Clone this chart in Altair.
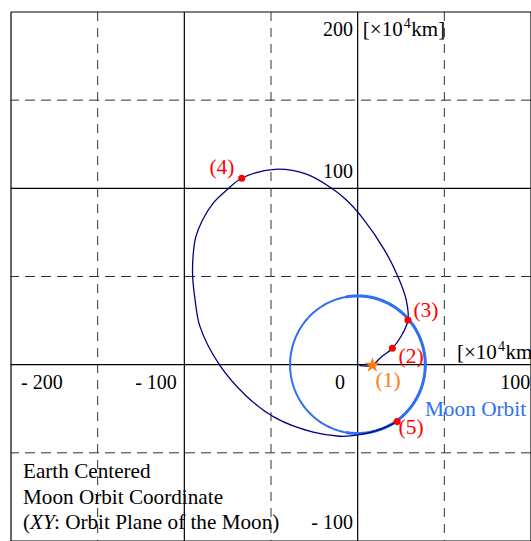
import altair as alt
import numpy as np
import pandas as pd

# ---- values (units: 10^4 km, Earth-centred Moon-orbit frame) ----
X_DOMAIN = [-200, 100]
Y_DOMAIN = [-100, 200]

v_solid = [-200, -100, 0, 100]
v_dashed = [-150, -50, 50]
h_solid = [200, 100, 0, -100]
h_dashed = [150, 50, -50]

# transfer trajectory, from launch out to the apogee loop and back to lunar capture
traj_x = [1.0, 8.5, 13.0, 20.0, 25.0, 29.0, 28.0, 23.2, 15.5, 3.0, -6.5, -15.0, -29.5,
          -47.8, -66.9, -75.0, -83.0, -89.5, -93.5, -95.0, -95.2, -93.8, -91.0, -79.8, -64.0,
          -47.4, -25.7, -10.4, -2.9, 8.0, 16.0, 22.8]
traj_y = [-0.5, -0.3, 3.8, 9.3, 16.0, 25.3, 36.8, 50.0, 65.0, 83.0, 93.4, 100.0, 108.0,
          110.8, 105.7, 99.5, 92.0, 82.0, 72.0, 61.0, 50.0, 36.8, 21.7, 0.0, -18.0,
          -30.2, -38.3, -40.6, -40.3, -38.2, -35.6, -32.3]

moon_radius = 39.0
moon_thick_from, moon_thick_to = 100.0, -100.0   # degrees, arc travelled with the Moon

event_names = ["(2)", "(3)", "(4)", "(5)"]
event_x = [20.0, 29.0, -66.9, 22.8]
event_y = [9.3, 25.3, 105.7, -32.3]
launch_x, launch_y = [8.5], [-0.3]

x_tick_text = ["- 200", "- 100", "0", "100"]
y_tick_text = ["200", "100", "- 100"]

SERIF = "Liberation Serif"
NAVY = "#000080"
MOON_BLUE = "#2f6ff2"
RED = "#ff0000"
ORANGE = "#ff7a10"
STAR_PATH = ("M0,-1L0.2245,-0.309L0.9511,-0.309L0.3633,0.118L0.5878,0.809L0,0.382"
             "L-0.5878,0.809L-0.3633,0.118L-0.9511,-0.309L-0.2245,-0.309Z")

xs = alt.Scale(domain=X_DOMAIN, nice=False, zero=False)
ys = alt.Scale(domain=Y_DOMAIN, nice=False, zero=False)


def X(field="x"):
    return alt.X(f"{field}:Q", scale=xs, axis=None)


def Y(field="y"):
    return alt.Y(f"{field}:Q", scale=ys, axis=None)


# ---- grid ----
grid_v = alt.Chart(pd.DataFrame({"x": v_solid})).mark_rule(color="#000", strokeWidth=1.2).encode(x=X())
grid_vd = alt.Chart(pd.DataFrame({"x": v_dashed})).mark_rule(
    color="#333", strokeWidth=1, strokeDash=[9, 7]).encode(x=X())
grid_h = alt.Chart(pd.DataFrame({"y": h_solid})).mark_rule(color="#000", strokeWidth=1.2).encode(y=Y())
grid_hd = alt.Chart(pd.DataFrame({"y": h_dashed})).mark_rule(
    color="#333", strokeWidth=1, strokeDash=[10, 6]).encode(y=Y())

# ---- Moon orbit ----
ang = np.radians(np.linspace(0, 360, 241))
moon_df = pd.DataFrame({"i": range(len(ang)),
                        "x": moon_radius * np.cos(ang),
                        "y": moon_radius * np.sin(ang)})
moon = alt.Chart(moon_df).mark_line(color=MOON_BLUE, strokeWidth=2).encode(
    x=X(), y=Y(), order="i:Q")

ang2 = np.radians(np.linspace(moon_thick_from, moon_thick_to, 121))
moon_arc_df = pd.DataFrame({"i": range(len(ang2)),
                            "x": moon_radius * np.cos(ang2),
                            "y": moon_radius * np.sin(ang2)})
moon_arc = alt.Chart(moon_arc_df).mark_line(color=MOON_BLUE, strokeWidth=3).encode(
    x=X(), y=Y(), order="i:Q")

# ---- spacecraft trajectory ----
traj_df = pd.DataFrame({"i": range(len(traj_x)), "x": traj_x, "y": traj_y})
traj = alt.Chart(traj_df).mark_line(color=NAVY, strokeWidth=1.3, interpolate="catmull-rom").encode(
    x=X(), y=Y(), order="i:Q")

events_df = pd.DataFrame({"x": event_x, "y": event_y, "name": event_names})
dots = alt.Chart(events_df).mark_point(filled=True, color=RED, size=50, opacity=1).encode(x=X(), y=Y())

launch_df = pd.DataFrame({"x": launch_x, "y": launch_y})
star = alt.Chart(launch_df).mark_point(shape=STAR_PATH, filled=True, color=ORANGE, size=260, opacity=1).encode(
    x=X(), y=Y())


# ---- text ----
def text_layer(rows, **kw):
    df = pd.DataFrame(rows, columns=["x", "y", "t"])
    params = dict(font=SERIF, fontSize=20, baseline="middle", color="#000")
    params.update(kw)
    return alt.Chart(df).mark_text(**params).encode(x=X(), y=Y(), text="t:N")


event_label_pos = [(30.8, 4.4), (39.4, 30.5), (-78.3, 111.6), (30.8, -35.9)]
ev_labels = text_layer([(p[0], p[1], n) for p, n in zip(event_label_pos, event_names)],
                       color=RED, fontSize=21.5)
lbl1 = text_layer([(17.5, -9.2, "(1)")], color=ORANGE, fontSize=21.5)

x_ticks = text_layer([(-194.2, -10.2, x_tick_text[0])], align="left")
x_ticks2 = text_layer([(-104.3, -10.2, x_tick_text[1]), (-7.3, -10.2, x_tick_text[2]),
                       (99.5, -10.2, x_tick_text[3])], align="right")
y_ticks = text_layer([(-2.7, 189.8, y_tick_text[0]), (-2.7, 109.4, y_tick_text[1]),
                      (-2.7, -89.8, y_tick_text[2])], align="right")

# unit labels: "[×10" + raised "4" + "km]"
unit_pos = [(3.0, 189.8), (57.3, 6.6)]
units_a = text_layer([(p[0], p[1], "[×10") for p in unit_pos], align="left", fontSize=21)
units_b = text_layer([(p[0], p[1], "4") for p in unit_pos], align="left", fontSize=14, dx=41, dy=-6)
units_c = text_layer([(p[0], p[1], "km]") for p in unit_pos], align="left", fontSize=21, dx=48.5)

moon_lbl = text_layer([(38.8, -25.7, "Moon Orbit")], align="left", color=MOON_BLUE, fontSize=21.3)

note = text_layer([(-193.1, -61.1, "Earth Centered"), (-193.1, -75.6, "Moon Orbit Coordinate"),
                   (-193.1, -89.8, "(")], align="left", fontSize=21.2)
note_xy = text_layer([(-193.1, -89.8, "XY")], align="left", fontSize=21.2, fontStyle="italic", dx=7)
note_rest = text_layer([(-193.1, -89.8, ": Orbit Plane of the Moon)")], align="left", fontSize=21.2, dx=31)

chart = alt.layer(
    grid_vd, grid_hd, grid_v, grid_h,
    moon, moon_arc, traj, dots, star,
    ev_labels, lbl1, x_ticks, x_ticks2, y_ticks, units_a, units_b, units_c, moon_lbl,
    note, note_xy, note_rest,
).properties(
    width=520, height=529,
    padding={"left": 11, "top": 12, "right": 0, "bottom": 0},
    autosize="none",
).configure_view(stroke=None)

chart.save("out.html", embed_options={"renderer": "svg", "actions": False})
